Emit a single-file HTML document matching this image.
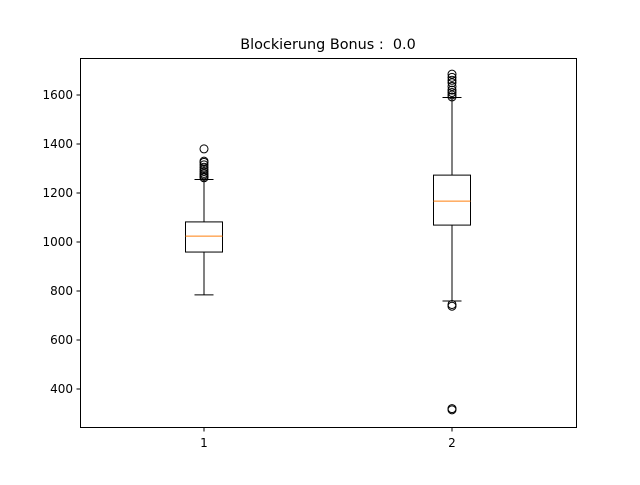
<!DOCTYPE html>
<html><head><meta charset="utf-8"><style>
body{margin:0;background:#fff;}
svg text{font-family:"DejaVu Sans","Liberation Sans",sans-serif;}
</style></head><body>
<svg id="chart" width="640" height="480" xmlns="http://www.w3.org/2000/svg">
<rect width="640" height="480" fill="#fff"/>
<text x="328" y="49" text-anchor="middle" font-size="14.4">Blockierung Bonus : &#160;0.0</text>
<g id="marks"></g>
<rect x="80.5" y="58.5" width="496" height="369" fill="none" stroke="#000" stroke-width="1"/>
</svg>
<script>
const categories = ["1","2"];
const q1 = [959, 1069];
const medians = [1024, 1167];
const q3 = [1082, 1273];
const whiskerLow = [784, 759];
const whiskerHigh = [1255, 1590];
const fliers = [
  [1262,1268,1274,1280,1288,1296,1305,1315,1325,1330,1380],
  [1592,1600,1610,1620,1635,1650,1660,1672,1685,745,738,320,315]
];
const yTicks = [400,600,800,1000,1200,1400,1600];

const svgNS="http://www.w3.org/2000/svg";
const g=document.getElementById('marks');
const y=v=>389-(v-400)*0.245;
const x=i=>204+i*248;
function mk(tag,attrs){const e=document.createElementNS(svgNS,tag);for(const k in attrs)e.setAttribute(k,attrs[k]);g.appendChild(e);return e;}

yTicks.forEach(t=>{
  const l=mk('line',{x1:76.5,x2:80.5,y1:y(t),y2:y(t),stroke:'#000'});
  
  
  const tx=mk('text',{x:73,y:y(t)+4,'text-anchor':'end','font-size':'12'});
  tx.textContent=t;
  
  
});
categories.forEach((c,i)=>{
  const cx=x(i);
  const l=mk('line',{x1:cx,x2:cx,y1:427.5,y2:431.5,stroke:'#000'});
  
  
  const tx=mk('text',{x:cx,y:447,'text-anchor':'middle','font-size':'12'});
  tx.textContent=c;
  
  
  const w1=mk('line',{x1:cx,x2:cx,y1:y(q1[i]),y2:y(whiskerLow[i]),stroke:'#000'});
  
  
  const w2=mk('line',{x1:cx,x2:cx,y1:y(q3[i]),y2:y(whiskerHigh[i]),stroke:'#000'});
  
  
  const c1=mk('line',{x1:cx-9.5,x2:cx+9.5,y1:y(whiskerLow[i]),y2:y(whiskerLow[i]),stroke:'#000'});
  
  
  const c2=mk('line',{x1:cx-9.5,x2:cx+9.5,y1:y(whiskerHigh[i]),y2:y(whiskerHigh[i]),stroke:'#000'});
  
  
  const b=mk('rect',{x:cx-18.5,y:y(q3[i]),width:37,height:y(q1[i])-y(q3[i]),fill:'none',stroke:'#000'});
  
  
  const m=mk('line',{x1:cx-18.5,x2:cx+18.5,y1:y(medians[i]),y2:y(medians[i]),stroke:'#ff7f0e'});
  
  
  fliers[i].forEach(v=>{
    const f=mk('circle',{cx:cx,cy:y(v),r:4,fill:'none',stroke:'#000'});
    
    
  });
});
</script>
</body></html>
